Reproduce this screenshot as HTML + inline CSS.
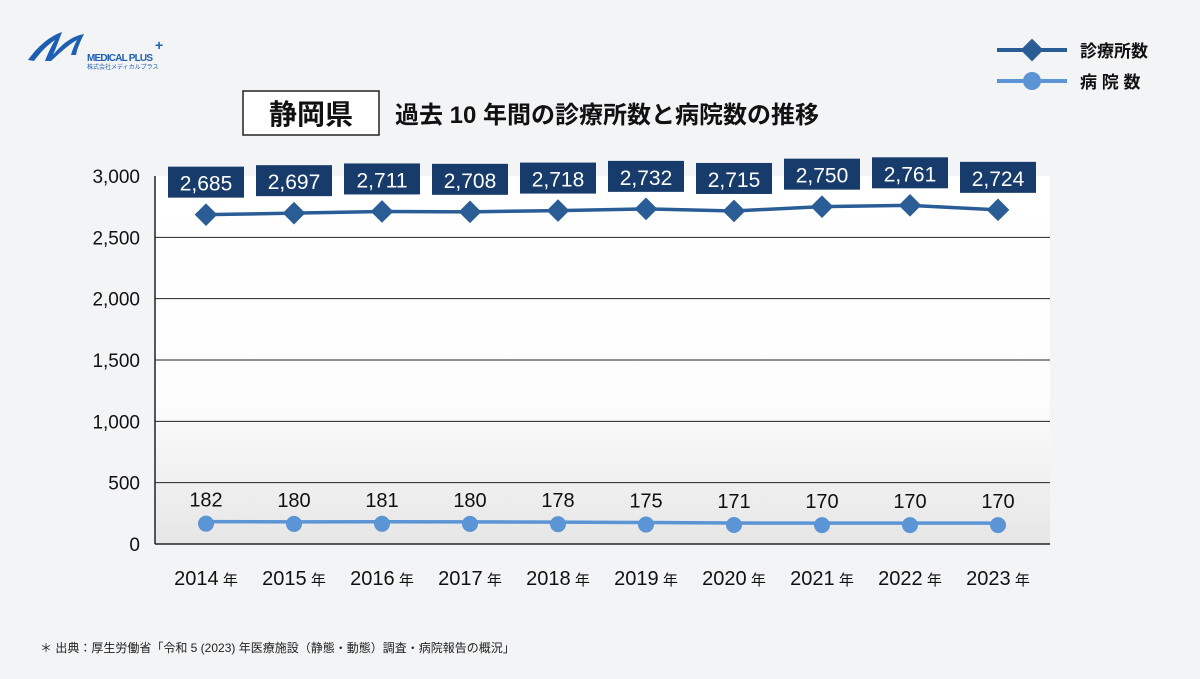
<!DOCTYPE html>
<html><head><meta charset="utf-8"><style>
body{margin:0;width:1200px;height:674px;background:#f3f4f6;font-family:"Liberation Sans","Noto Sans CJK JP",sans-serif;overflow:hidden}
</style></head><body>
<svg width="1200" height="674" xmlns="http://www.w3.org/2000/svg" style="font-family:'Liberation Sans','Noto Sans CJK JP',sans-serif">
<defs><linearGradient id="pg" x1="0" y1="0" x2="0" y2="1"><stop offset="0" stop-color="#fff"/><stop offset="0.6" stop-color="#fdfdfd"/><stop offset="1" stop-color="#e6e6e6"/></linearGradient></defs>
<g>
<path d="M28 60 C38 46 50 36 62 32 C59 40 56 48 53 55 C62 44 72 36 84 34 C80 42 77 49 76 55 L71 55 C73 48 75 44 77 40 C68 45 60 53 51 61 L45 61 C48 53 52 45 55 40 C46 46 40 53 34 61 Z" fill="#1f5fb3"/>
<text x="87" y="61" font-size="10" font-weight="bold" fill="#1f5fb3" textLength="66">MEDICAL PLUS</text>
<text x="155" y="50" font-size="14" font-weight="bold" fill="#1f5fb3">+</text>
<text x="87" y="69" font-size="6" fill="#1f5fb3">株式会社メディカルプラス</text>
</g>
<rect x="243" y="91" width="136" height="44" fill="#fff" stroke="#222" stroke-width="1.5"/>
<text x="311" y="124" font-size="28" font-weight="bold" text-anchor="middle" fill="#111">静岡県</text>
<text x="395" y="123" font-size="24" font-weight="bold" fill="#111">過去 10 年間の診療所数と病院数の推移</text>
<g>
<line x1="997" y1="50" x2="1067" y2="50" stroke="#2a5d96" stroke-width="4"/>
<rect x="1024" y="42" width="16" height="16" transform="rotate(45 1032 50)" fill="#2a5d96"/>
<text x="1080" y="57" font-size="17" font-weight="bold" fill="#111">診療所数</text>
<line x1="997" y1="81" x2="1067" y2="81" stroke="#5b95d6" stroke-width="4"/>
<circle cx="1032" cy="81" r="9" fill="#5b95d6"/>
<text x="1080" y="88" font-size="17" font-weight="bold" fill="#111">病 院 数</text>
</g>
<rect x="155" y="176" width="895" height="368" fill="url(#pg)"/>
<g id="grid"></g><g id="marks"></g>
<text x="40" y="652" font-size="12" fill="#222">＊ 出典：厚生労働省「令和 5 (2023) 年医療施設（静態・動態）調査・病院報告の概況」</text>
</svg>
<script>
const years=["2014","2015","2016","2017","2018","2019","2020","2021","2022","2023"];
const clinics=[2685,2697,2711,2708,2718,2732,2715,2750,2761,2724];
const hospitals=[182,180,181,180,178,175,171,170,170,170];
const yTicks=[0,500,1000,1500,2000,2500,3000];
const yTickLabels=["0","500","1,000","1,500","2,000","2,500","3,000"];
const NS="http://www.w3.org/2000/svg";
const X=i=>206+i*88, Y=v=>544-v*(368/3000);
function mk(t,a,p){const e=document.createElementNS(NS,t);for(const k in a)e.setAttribute(k,a[k]);p.appendChild(e);return e;}
const g=document.getElementById('grid'),m=document.getElementById('marks');
yTicks.forEach((v,i)=>{
 if(v>0&&v<3000){const l=mk('line',{x1:155,x2:1050,y1:Y(v),y2:Y(v),stroke:'#222','stroke-width':1},g);
 
 }
 const t=mk('text',{x:140,y:Y(v)+7,'font-size':19,'text-anchor':'end',fill:'#111'},g);t.textContent=yTickLabels[i];
 
 
});
const ax=mk('line',{x1:155,x2:155,y1:176,y2:544,stroke:'#222','stroke-width':1.5},g);


const bx=mk('line',{x1:155,x2:1050,y1:544,y2:544,stroke:'#222','stroke-width':1.5},g);


years.forEach((y,i)=>{const t=mk('text',{x:X(i),y:585,'font-size':20,'text-anchor':'middle',fill:'#111'},g);
 t.innerHTML=y+'<tspan font-size="15"> 年</tspan>';
 
 });
const cl=mk('polyline',{points:clinics.map((v,i)=>X(i)+','+Y(v)).join(' '),fill:'none',stroke:'#2a5d96','stroke-width':3.5},m);


const hl=mk('polyline',{points:hospitals.map((v,i)=>X(i)+','+Y(v)).join(' '),fill:'none',stroke:'#5b95d6','stroke-width':3.5},m);


clinics.forEach((v,i)=>{
 const d=mk('rect',{x:X(i)-8,y:Y(v)-8,width:16,height:16,fill:'#2a5d96',transform:`rotate(45 ${X(i)} ${Y(v)})`},m);
 
 
 const b=mk('rect',{x:X(i)-38,y:Y(v)-48,width:76,height:31,fill:'#173c6b'},m);
 
 
 const t=mk('text',{x:X(i),y:Y(v)-24,'font-size':21,'text-anchor':'middle',fill:'#fff'},m);t.textContent=v.toLocaleString('en-US');
 
 
});
hospitals.forEach((v,i)=>{
 const c=mk('circle',{cx:X(i),cy:Y(v)+2,r:8,fill:'#5b95d6'},m);
 
 
 const t=mk('text',{x:X(i),y:Y(v)-15,'font-size':20,'text-anchor':'middle',fill:'#111'},m);t.textContent=v;
 
 
});
</script>
</body></html>
